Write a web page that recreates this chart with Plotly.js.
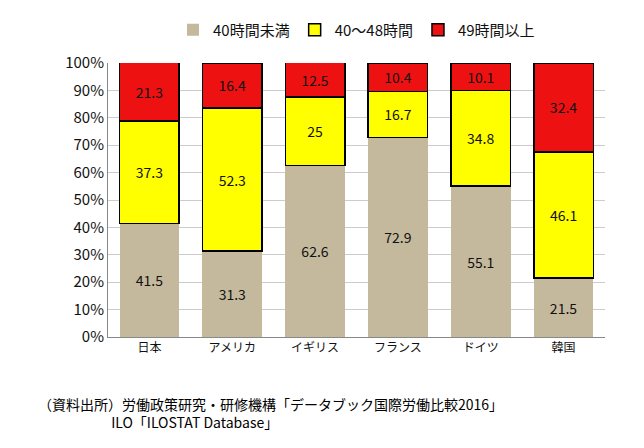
<!DOCTYPE html>
<html><head><meta charset="utf-8">
<script src="https://cdn.plot.ly/plotly-3.0.1.min.js"></script>
<style>body{margin:0}#c{width:644px;height:448px}</style>
</head><body><div id="c"></div>
<script>
const countries = ["日本", "アメリカ", "イギリス", "フランス", "ドイツ", "韓国"];
const under40 = [41.5, 31.3, 62.6, 72.9, 55.1, 21.5];
const h40to48 = [37.3, 52.3, 25, 16.7, 34.8, 46.1];
const over49 = [21.3, 16.4, 12.5, 10.4, 10.1, 32.4];

const FONT = "Noto Sans CJK JP, sans-serif";
const bar = (name, y, color, line) => ({
  type: "bar", name, x: countries, y, text: y.map(String),
  textposition: "inside", insidetextanchor: "middle",
  textfont: { size: 14, color: "#111", family: FONT },
  marker: { color, line: { color: "#000", width: line } },
  hoverinfo: "skip",
});

const traces = [
  bar("40時間未満", under40, "#c5b99d", 0),
  bar("40～48時間", h40to48, "#ffff00", 1.5),
  bar("49時間以上", over49, "#ee1111", 1.5),
];

const layout = {
  barmode: "stack", bargap: 0.28,
  width: 644, height: 448,
  margin: { l: 108, r: 39, t: 63, b: 111 },
  paper_bgcolor: "#fff", plot_bgcolor: "#fff",
  font: { family: FONT, color: "#111", size: 14 },
  showlegend: true,
  legend: { orientation: "h", x: 0.5, xanchor: "center", y: 1.12, yanchor: "middle",
            font: { size: 15 }, traceorder: "normal" },
  xaxis: { tickfont: { size: 12 }, showline: true, linecolor: "#888", ticks: "" },
  yaxis: { range: [0, 100], dtick: 10, ticksuffix: "%", tickfont: { size: 15 },
           gridcolor: "#ccc", showline: true, linecolor: "#888", zeroline: false },
  annotations: [
    { xref: "paper", yref: "paper", x: -0.145, y: -0.2, xanchor: "left", yanchor: "top",
      showarrow: false, align: "left", font: { size: 14, color: "#000" },
      text: "（資料出所）労働政策研究・研修機構「データブック国際労働比較2016」<br>　　　　　 ILO「ILOSTAT Database」" },
  ],
};

Plotly.newPlot("c", traces, layout, { displayModeBar: false, staticPlot: true });
</script>
</body></html>
